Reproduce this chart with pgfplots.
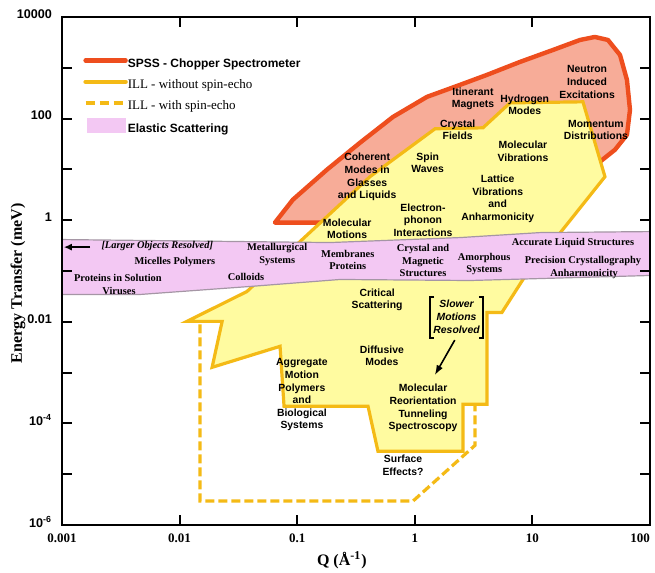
\documentclass[border=0pt]{standalone}
\usepackage{pgfplots}
\pgfplotsset{compat=1.18}
\usepackage{fontspec}
\setmainfont{Liberation Serif}
\setsansfont{Liberation Sans}
\usetikzlibrary{arrows.meta}
\definecolor{spssred}{RGB}{238,78,30}
\definecolor{spssfill}{RGB}{247,172,152}
\definecolor{illline}{RGB}{244,186,22}
\definecolor{illfill}{RGB}{255,251,160}
\definecolor{elpink}{RGB}{243,200,243}
\definecolor{elgray}{RGB}{165,150,165}
\begin{document}
\begin{tikzpicture}[
  lab/.style={font=\sffamily\bfseries\fontsize{5.2}{6.3}\selectfont, align=center, inner sep=0pt},
  plab/.style={font=\rmfamily\bfseries\fontsize{5.2}{6.3}\selectfont, align=center, inner sep=0pt}]
\begin{axis}[
  scale only axis, width=294pt, height=254pt,
  xmode=log, ymode=log,
  xmin=0.001, xmax=100, ymin=1e-6, ymax=1e4,
  xminorticks=false, yminorticks=false,
  axis on top,
  tick align=inside, major tick length=5pt,
  axis line style={line width=1pt},
  every tick/.style={line width=1pt, black},
  xtick={0.001,0.01,0.1,1,10,100},
  xticklabels={0.001,0.01,0.1,1,10,\makebox[0pt][r]{100}},
  ytick={1e-6,1e-5,1e-4,1e-3,1e-2,1e-1,1,10,100,1000,10000},
  yticklabels={10\textsuperscript{-6},,10\textsuperscript{-4},,0.01,,1,,100,,10000},
  xticklabel style={font=\rmfamily\bfseries\fontsize{6.5}{7}\selectfont, yshift=-1pt},
  yticklabel style={font=\sffamily\bfseries\fontsize{6.3}{7}\selectfont, xshift=-1.5pt, yshift=1.5pt},
  xlabel={Q (Å\textsuperscript{-1})},
  xlabel style={font=\rmfamily\bfseries\fontsize{8}{9}\selectfont, at={(rel axis cs:0.476,-0.069)}, anchor=center},
  ylabel={Energy Transfer (meV)},
  ylabel style={font=\rmfamily\bfseries\fontsize{8}{9}\selectfont, at={(rel axis cs:-0.0748,0.476)}, anchor=center},
  legend cell align=left,
  legend style={at={(rel axis cs:0.0357,0.928)}, anchor=north west, draw=none, fill=none,
    inner sep=0pt, row sep=0pt,
    nodes={inner sep=0pt, text height=6.8pt, text depth=3.8pt},
    /tikz/every even column/.append style={column sep=5pt}},
]
\coordinate (bbsw) at (rel axis cs:0,0);
\coordinate (bbne) at (rel axis cs:1,1);

\addlegendimage{legend image code/.code={\draw[spssred, line width=2.2pt, line cap=round] (0pt,2pt)--(20pt,2pt);}}
\addlegendentry{\sffamily\bfseries\fontsize{6}{7}\selectfont SPSS - Chopper Spectrometer}
\addlegendimage{legend image code/.code={\draw[illline, line width=2.2pt, line cap=round] (0pt,2pt)--(20pt,2pt);}}
\addlegendentry{\rmfamily\fontsize{6.5}{7}\selectfont ILL - without spin-echo}
\addlegendimage{legend image code/.code={\draw[illline, line width=2.2pt, dash pattern=on 4.5pt off 2.5pt] (0pt,2pt)--(20pt,2pt);}}
\addlegendentry{\rmfamily\fontsize{6.5}{7}\selectfont ILL - with spin-echo}
\addlegendimage{legend image code/.code={\fill[elpink] (1pt,-1.7pt) rectangle (20pt,5.7pt);}}
\addlegendentry{\sffamily\bfseries\fontsize{6}{7}\selectfont Elastic Scattering}

% SPSS chopper spectrometer region
\addplot[forget plot, fill=spssfill, draw=spssred, line width=2.2pt, line join=round] coordinates {
(0.0647,0.897) (0.231,0.897) (37.6,14.2) (50.4,24.4) (63.7,48.1) (67.6,149)
(63.7,578) (55.6,1792) (43.9,3533) (34.0,4047) (25.4,3533) (15.0,2249)
(7.85,1306) (4.11,726) (2.42,461) (1.27,268) (0.653,108) (0.342,33.5)
(0.179,9.86) (0.0920,2.54)
} -- cycle;

% ILL without spin-echo
\addplot[forget plot, fill=illfill, draw=illline, line width=1.6pt, line join=miter] coordinates {
(0.01156,0.0102) (0.0374,0.0395) (0.1057,0.380) (0.416,7.19) (1.486,63.1)
(3.80,65.9) (6.45,204) (26.9,214) (41.4,7.19) (8.32,0.0681) (5.51,0.0153)
(4.11,0.0153) (4.11,2.38e-4) (2.57,2.38e-4) (2.57,2.84e-5) (0.486,2.84e-5)
(0.400,2.18e-4) (0.0773,2.18e-4) (0.0715,0.00329) (0.0189,0.00127) (0.0230,0.0102)
} -- cycle;

% ILL with spin-echo
\addplot[forget plot, draw=illline, line width=1.6pt, dash pattern=on 4.5pt off 2pt] coordinates {
(0.0149,0.00889) (0.0149,2.96e-6) (0.966,2.96e-6) (3.25,3.7e-5) (3.25,2.38e-4)
};

% Elastic scattering band
\addplot[forget plot, fill=elpink, draw=none] coordinates {
(0.001,0.416) (0.190,0.363) (2.42,0.455) (11.6,0.570) (100,0.597)
(100,0.0816) (2.95,0.0650) (0.231,0.0681) (0.0397,0.0496) (0.00461,0.0345) (0.001,0.0345)
} -- cycle;
\addplot[forget plot, draw=elgray, line width=0.6pt] coordinates {
(0.001,0.416) (0.190,0.363) (2.42,0.455) (11.6,0.570) (100,0.597)};
\addplot[forget plot, draw=elgray, line width=0.6pt] coordinates {
(0.001,0.0345) (0.00461,0.0345) (0.0397,0.0496) (0.231,0.0681) (2.95,0.0650) (100,0.0816)};

% labels in the SPSS / ILL regions
\node[lab] at (rel axis cs:0.699,0.839) {Itinerant\\Magnets};
\node[lab] at (rel axis cs:0.787,0.827) {Hydrogen\\Modes};
\node[lab] at (rel axis cs:0.893,0.872) {Neutron\\Induced\\Excitations};
\node[lab] at (rel axis cs:0.908,0.778) {Momentum\\Distributions};
\node[lab] at (rel axis cs:0.673,0.778) {Crystal\\Fields};
\node[lab] at (rel axis cs:0.784,0.736) {Molecular\\Vibrations};
\node[lab] at (rel axis cs:0.741,0.642) {Lattice\\Vibrations\\and\\Anharmonicity};
\node[lab] at (rel axis cs:0.622,0.713) {Spin\\Waves};
\node[lab] at (rel axis cs:0.519,0.685) {Coherent\\Modes in\\Glasses\\and Liquids};
\node[lab] at (rel axis cs:0.614,0.600) {Electron-\\phonon\\Interactions};
\node[lab] at (rel axis cs:0.485,0.583) {Molecular\\Motions};

% labels in the elastic band
\node[plab, font=\rmfamily\bfseries\itshape\fontsize{5.2}{6.3}\selectfont] at (rel axis cs:0.162,0.549) {[Larger Objects Resolved]};
\draw[black, line width=0.8pt, -{Latex[length=4pt,width=3.5pt]}] (rel axis cs:0.048,0.547) -- (rel axis cs:0.003,0.547);
\node[plab] at (rel axis cs:0.192,0.518) {Micelles Polymers};
\node[plab] at (rel axis cs:0.095,0.486) {Proteins in Solution};
\node[plab] at (rel axis cs:0.097,0.461) {Viruses};
\node[plab] at (rel axis cs:0.366,0.533) {Metallurgical\\Systems};
\node[plab] at (rel axis cs:0.313,0.488) {Colloids};
\node[plab] at (rel axis cs:0.486,0.522) {Membranes\\Proteins};
\node[plab] at (rel axis cs:0.614,0.520) {Crystal and\\Magnetic\\Structures};
\node[plab] at (rel axis cs:0.718,0.514) {Amorphous\\Systems};
\node[plab] at (rel axis cs:0.869,0.555) {Accurate Liquid Structures};
\node[plab] at (rel axis cs:0.886,0.520) {Precision Crystallography};
\node[plab] at (rel axis cs:0.888,0.494) {Anharmonicity};

% labels in the lower ILL region
\node[lab] at (rel axis cs:0.536,0.443) {Critical\\Scattering};
\node[lab, font=\sffamily\bfseries\itshape\fontsize{5.2}{6.5}\selectfont] at (rel axis cs:0.671,0.409) {Slower\\Motions\\Resolved};
\draw[black, line width=0.7pt] (rel axis cs:0.633,0.449) -- (rel axis cs:0.626,0.449) -- (rel axis cs:0.626,0.368) -- (rel axis cs:0.633,0.368);
\draw[black, line width=0.7pt] (rel axis cs:0.709,0.449) -- (rel axis cs:0.716,0.449) -- (rel axis cs:0.716,0.368) -- (rel axis cs:0.709,0.368);
\draw[black, line width=0.8pt, -{Latex[length=5pt,width=3.5pt]}] (rel axis cs:0.668,0.364) -- (rel axis cs:0.634,0.295);
\node[lab] at (rel axis cs:0.544,0.333) {Diffusive\\Modes};
\node[lab] at (rel axis cs:0.614,0.230) {Molecular\\Reorientation\\Tunneling\\Spectroscopy};
\node[lab] at (rel axis cs:0.408,0.256) {Aggregate\\Motion\\Polymers\\and\\Biological\\Systems};
\node[lab] at (rel axis cs:0.580,0.118) {Surface\\Effects?};
\end{axis}
\pgfresetboundingbox
\path ([xshift=-31pt,yshift=-24pt]bbsw) rectangle ([xshift=2.5pt,yshift=8.5pt]bbne);
\end{tikzpicture}
\end{document}
